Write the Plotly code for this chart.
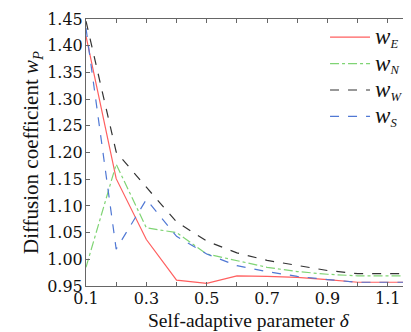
import plotly.graph_objects as go

delta = [0.1, 0.2, 0.3, 0.4, 0.5, 0.6, 0.7, 0.8, 0.9, 1.0, 1.1, 1.2]
w_E = [1.418, 1.151, 1.037, 0.961, 0.955, 0.969, 0.968, 0.966, 0.962, 0.957, 0.957, 0.957]
w_N = [0.985, 1.178, 1.059, 1.050, 1.010, 0.997, 0.985, 0.977, 0.972, 0.969, 0.969, 0.969]
w_W = [1.446, 1.201, 1.135, 1.070, 1.034, 1.012, 0.998, 0.988, 0.979, 0.973, 0.973, 0.973]
w_S = [1.433, 1.019, 1.112, 1.043, 1.010, 0.988, 0.977, 0.968, 0.962, 0.957, 0.957, 0.957]

def lab(sub):
    return ("<span style='font-size:23px'><i>w</i></span><sub><i>%s</i></sub>" % sub)

series = [
    (lab("E"), w_E, "#ff5f5f", "solid"),
    (lab("N"), w_N, "#7fd474", "dashdot"),
    (lab("W"), w_W, "#333333", "dash"),
    (lab("S"), w_S, "#5078d4", "dash"),
]

fig = go.Figure()
for name, ys, color, dash in series:
    fig.add_trace(go.Scatter(x=delta, y=ys, mode="lines", name=name,
                             line=dict(color=color, width=1.2, dash=dash)))

font_family = "Liberation Serif, DejaVu Serif, serif"
tick_family = "DejaVu Serif, serif"
axis_common = dict(
    showline=True, linecolor="#666666", linewidth=1, mirror="allticks",
    ticks="inside", ticklen=4, tickcolor="#666666", showgrid=False, zeroline=False,
    tickfont=dict(family=tick_family, size=16, color="#111111"),
)
fig.update_xaxes(range=[0.1, 1.2], tick0=0.1, dtick=0.2, tickformat=".1f",
                 ticklabelstandoff=-2,
                 minor=dict(dtick=0.1, tick0=0.1, ticks="inside", ticklen=4, tickcolor="#666666"),
                 **axis_common)
fig.update_yaxes(range=[0.95, 1.45], tick0=0.95, dtick=0.05, tickformat=".2f",
                 ticklabelstandoff=-1,
                 title=dict(text="Diffusion coefficient <i>w</i><sub><i>P</i></sub>", standoff=2,
                            font=dict(family=font_family, size=21, color="#111111")),
                 **axis_common)

fig.add_annotation(text="Self-adaptive parameter <i>δ</i>", xref="paper", yref="paper",
                   x=0.49, y=-0.128, xanchor="center", yanchor="middle", showarrow=False,
                   font=dict(family=font_family, size=19.5, color="#111111"))

fig.update_layout(
    width=411, height=332,
    margin=dict(l=78, r=1, t=11, b=54),
    plot_bgcolor="white", paper_bgcolor="white",
    legend=dict(x=0.72, y=1.0, xanchor="left", yanchor="top",
                bgcolor="rgba(0,0,0,0)", font=dict(family=font_family, size=18, color="#111111"),
                tracegroupgap=0, itemwidth=40),
    showlegend=True,
)

fig.write_html("out.html")
